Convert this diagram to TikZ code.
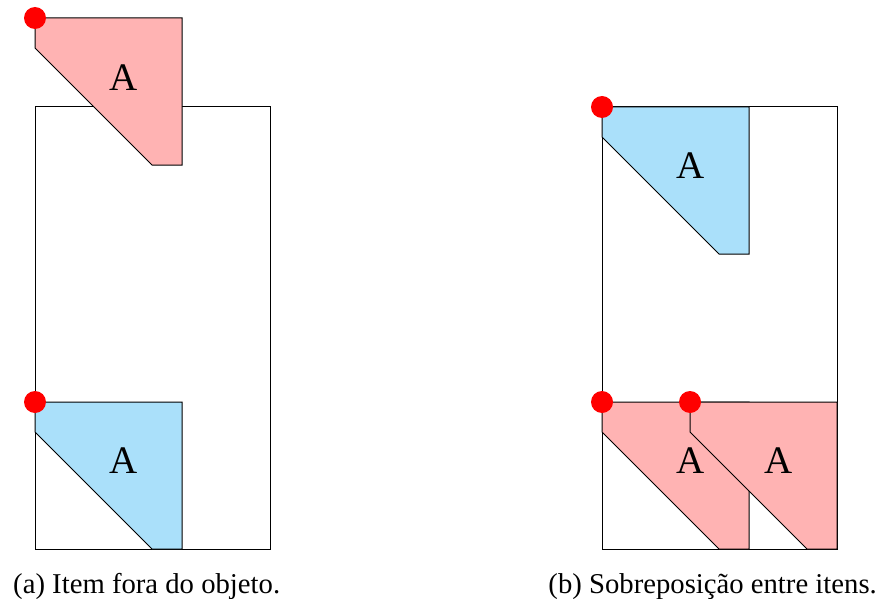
\documentclass[tikz,border=0pt]{standalone}
\usepackage{fontspec}
\setmainfont{Liberation Serif}
\newfontfamily\timesfont{Liberation Serif}
\definecolor{pinkfill}{RGB}{255,179,179}
\definecolor{bluefill}{RGB}{170,224,250}
\definecolor{dotred}{RGB}{255,0,0}
\tikzset{
  binbox/.style={draw=black, line width=1pt},
  itemshape/.style={draw=black, line width=1pt, line join=miter},
  pinkitem/.style={itemshape, fill=pinkfill},
  blueitem/.style={itemshape, fill=bluefill},
  reddot/.style={circle, fill=dotred, inner sep=0pt, minimum size=22pt},
  itemlabel/.style={inner sep=0pt, font=\timesfont\fontsize{39}{39}\selectfont},
  captionlabel/.style={inner sep=0pt, font=\timesfont\fontsize{28.7}{30}\selectfont},
}
\newcommand{\drawitem}[3]{% style, x, y
  \path[#1] (#2,#3) -- ++(147,0) -- ++(0,147) -- ++(-30,0) -- (#2,#3+30) -- cycle;
}
\begin{document}
\begin{tikzpicture}[x=1pt,y=-1pt]
\useasboundingbox (0,0) rectangle (883,599);
% left panel
\draw[binbox] (35,107) rectangle (270,549);
\drawitem{blueitem}{35}{402}
\drawitem{pinkitem}{35}{18}
\node[itemlabel] (la1) at (124,78) {A};
\node[itemlabel] (la2) at (124,461) {A};
\node[reddot] (d1) at (35,18) {};
\node[reddot] (d2) at (35,402) {};
\node[captionlabel, anchor=base west] (capa) at (13,593) {(a) Item fora do objeto.};
% right panel
\draw[binbox] (602,107) rectangle (837,549);
\drawitem{blueitem}{602}{107}
\drawitem{pinkitem}{602}{402}
\drawitem{pinkitem}{690}{402}
\node[itemlabel] (lb1) at (691,166) {A};
\node[itemlabel] (lb2) at (691,461) {A};
\node[itemlabel] (lb3) at (779,461) {A};
\node[reddot] (d3) at (602,107) {};
\node[reddot] (d4) at (602,402) {};
\node[reddot] (d5) at (690,402) {};
\node[captionlabel, anchor=base east] (capb) at (877,593) {(b) Sobreposição entre itens.};
\end{tikzpicture}
\end{document}
